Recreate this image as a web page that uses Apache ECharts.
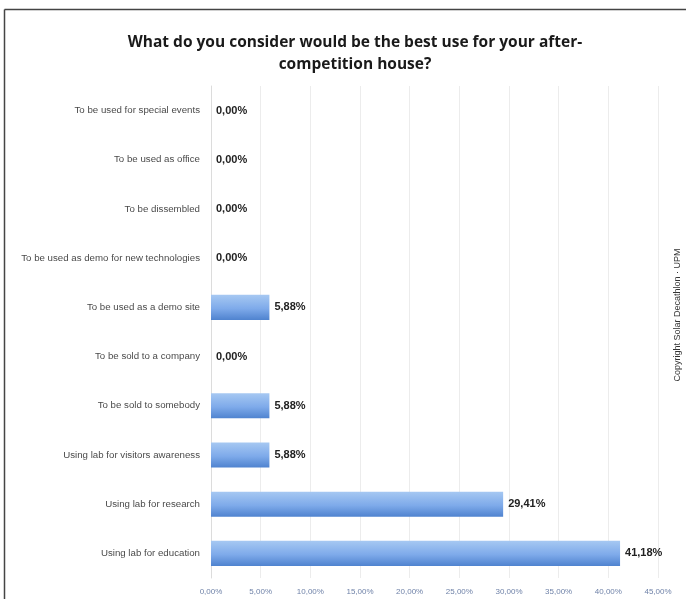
<!DOCTYPE html>
<html>
<head>
<meta charset="utf-8">
<script src="https://cdn.jsdelivr.net/npm/echarts@6/dist/echarts.min.js"></script>
<style>
html, body { margin: 0; padding: 0; background: #fff; }
#main { width: 686px; height: 599px; }
</style>
</head>
<body>
<div id="main"></div>
<script>
// categories, listed bottom to top as echarts draws them
var categories = [
	'Using lab for education',
	'Using lab for research',
	'Using lab for visitors awareness',
	'To be sold to somebody',
	'To be sold to a company',
	'To be used as a demo site',
	'To be used as demo for new technologies',
	'To be dissembled',
	'To be used as office',
	'To be used for special events'
];
var values = [41.18, 29.41, 5.88, 5.88, 0, 5.88, 0, 0, 0, 0];

function pct(v) {
	return v.toFixed(2).replace('.', ',') + '%';
}

var myChart = echarts.init(document.getElementById('main'));

var option = {
	backgroundColor: '#fff',
	// 标题
	title: {
		text: 'What do you consider would be the best use for your after-\ncompetition house?',
		left: 350,
		textAlign: 'center',
		top: 27,
		textStyle: {
			fontFamily: 'Open Sans',
			fontSize: 15.5,
			fontWeight: 'bold',
			color: '#1a1a1a',
			lineHeight: 22
		}
	},
	grid: {
		left: 211,
		right: 28,
		top: 86,
		bottom: 21
	},
	xAxis: {
		type: 'value',
		min: 0,
		max: 45,
		interval: 5,
		axisLine: { show: false },
		axisTick: { show: false },
		splitLine: { show: true, lineStyle: { color: '#ececec', width: 1 } },
		axisLabel: {
			margin: 10,
			fontFamily: 'Liberation Sans',
			fontSize: 8,
			color: '#6f82a8',
			formatter: function (v) { return pct(v); }
		}
	},
	yAxis: {
		type: 'category',
		data: categories,
		axisLine: { show: true, lineStyle: { color: '#dcdcdc' } },
		axisTick: { show: false },
		axisLabel: {
			margin: 11,
			fontFamily: 'Liberation Sans',
			fontSize: 9.7,
			color: '#4a4a4a'
		}
	},
	series: [
		{
			type: 'bar',
			data: values,
			barWidth: '51%',
			itemStyle: {
				color: new echarts.graphic.LinearGradient(0, 0, 0, 1, [
					{ offset: 0, color: '#a6c8f2' },
					{ offset: 0.55, color: '#7eaaea' },
					{ offset: 1, color: '#4f83cf' }
				])
			},
			label: {
				show: true,
				position: 'right',
				distance: 5,
				fontFamily: 'Liberation Sans',
				fontSize: 11,
				fontWeight: 'bold',
				color: '#222',
				formatter: function (p) { return pct(p.value); }
			}
		}
	],
	graphic: [
		{
			type: 'line',
			shape: { x1: 4.5, y1: 9.5, x2: 686, y2: 9.5 },
			style: { stroke: '#444', lineWidth: 1.5 }
		},
		{
			type: 'line',
			shape: { x1: 4.5, y1: 9.5, x2: 4.5, y2: 599 },
			style: { stroke: '#444', lineWidth: 1.5 }
		},
		{
			type: 'text',
			x: 678,
			y: 315,
			rotation: Math.PI / 2,
			style: {
				text: 'Copyright Solar Decathlon · UPM',
				fontFamily: 'Liberation Sans',
				fontSize: 9,
				fill: '#333',
				align: 'center',
				verticalAlign: 'middle'
			}
		}
	]
};

myChart.setOption(option);
</script>
</body>
</html>
